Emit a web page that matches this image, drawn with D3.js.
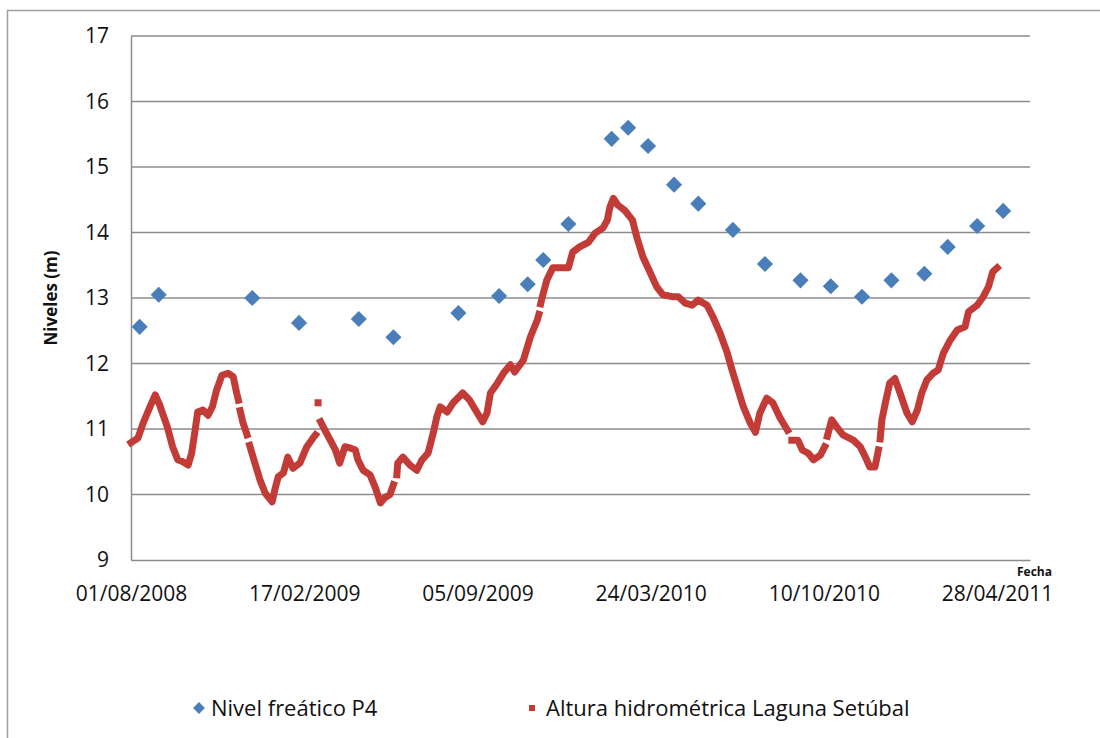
<!DOCTYPE html>
<html>
<head>
<meta charset="utf-8">
<script src="https://cdn.jsdelivr.net/npm/d3@7"></script>
<style>
  body { margin: 0; background: #fff; }
  text { font-family: "Open Sans", "Liberation Sans", sans-serif; fill: #111; }
</style>
</head>
<body>
<script>
// tick labels of the date axis (every 200 days)
const tickLabels = ["01/08/2008", "17/02/2009", "05/09/2009", "24/03/2010", "10/10/2010", "28/04/2011"];
const yTicks = [9, 10, 11, 12, 13, 14, 15, 16, 17];

// Nivel freatico P4 (blue diamonds)
const freaticoDates = ["11/08/2008", "02/09/2008", "19/12/2008", "11/02/2009", "21/04/2009", "31/05/2009",
  "14/08/2009", "30/09/2009", "02/11/2009", "20/11/2009", "19/12/2009", "07/02/2010", "26/02/2010",
  "21/03/2010", "20/04/2010", "18/05/2010", "27/06/2010", "03/08/2010", "13/09/2010", "18/10/2010",
  "23/11/2010", "27/12/2010", "03/02/2011", "02/03/2011", "05/04/2011", "05/05/2011"];
const freaticoValues = [12.56, 13.05, 13.0, 12.62, 12.68, 12.4, 12.77, 13.03, 13.21, 13.58, 14.13, 15.43, 15.6,
  15.32, 14.73, 14.44, 14.04, 13.52, 13.27, 13.18, 13.02, 13.27, 13.37, 13.78, 14.1, 14.33];

// Altura hidrometrica Laguna Setubal: days since 01/08/2008, null = no data
const lagunaDays = [
  0, 8, 14, 22, 28, 33, 42, 48, 54, 60,
  66, 70, 74, 77, 83, 89, 94, 99, 105, 112,
  118, 122, 124, 125, 126, 129, 134, 135, 137, 143,
  149, 155, 163, 166, 170, 176, 181, 187, 195, 203,
  210, 213, 214, 216, 217, 219, 224, 230, 236, 241,
  247, 253, 259, 262, 268, 276, 282, 288, 293, 299,
  303, 305, 307, 308, 314, 322, 330, 336, 343, 349,
  353, 357, 365, 372, 383, 391, 400, 406, 411, 415,
  423, 430, 438, 443, 449, 453, 461, 469, 471, 472,
  473, 475, 480, 487, 495, 505, 510, 518, 528, 536,
  545, 550, 553, 557, 562, 570, 579, 584, 591, 599,
  607, 614, 625, 632, 640, 648, 655, 665, 672, 680,
  688, 694, 700, 707, 715, 721, 726, 734, 741, 749,
  758, 760, 763, 770, 775, 782, 788, 796, 801, 803,
  804, 809, 815, 822, 834, 842, 848, 853, 859, 863,
  864, 865, 867, 871, 876, 882, 888, 896, 902, 908,
  913, 919, 926, 932, 938, 946, 954, 963, 967, 977,
  984, 990, 995, 1000];
const lagunaValues = [
  10.79, 10.86, 11.09, 11.34, 11.52, 11.37, 11.03, 10.73, 10.53, 10.5,
  10.45, 10.63, 10.98, 11.26, 11.29, 11.21, 11.34, 11.6, 11.82, 11.85,
  11.8, 11.55, 11.44, null, 11.28, 11.11, 10.91, null, 10.75, 10.48,
  10.22, 10.02, 9.89, 10.07, 10.27, 10.33, 10.57, 10.4, 10.48, 10.73,
  10.86, 10.91, null, 11.4, null, 11.11, 10.98, 10.83, 10.68, 10.48,
  10.73, 10.71, 10.68, 10.53, 10.37, 10.3, 10.11, 9.87, 9.95, 10.0,
  10.15, null, 10.3, 10.48, 10.57, 10.45, 10.37, 10.53, 10.63, 10.94,
  11.18, 11.34, 11.26, 11.4, 11.55, 11.44, 11.24, 11.11, 11.24, 11.55,
  11.7, 11.85, 11.98, 11.87, 11.98, 12.05, 12.4, 12.66, 12.75, null,
  12.91, 13.02, 13.27, 13.46, 13.46, 13.46, 13.7, 13.78, 13.85, 13.99,
  14.07, 14.19, 14.39, 14.52, 14.42, 14.34, 14.19, 13.93, 13.63, 13.4,
  13.17, 13.05, 13.02, 13.02, 12.92, 12.89, 12.97, 12.89, 12.71, 12.47,
  12.18, 11.9, 11.64, 11.34, 11.09, 10.95, 11.24, 11.47, 11.4, 11.18,
  10.98, null, 10.83, 10.83, 10.68, 10.63, 10.53, 10.6, 10.73, null,
  10.89, 11.14, 11.03, 10.91, 10.83, 10.73, 10.57, 10.42, 10.42, 10.68,
  null, 10.85, 11.14, 11.4, 11.7, 11.77, 11.55, 11.24, 11.11, 11.29,
  11.55, 11.75, 11.85, 11.9, 12.16, 12.36, 12.51, 12.56, 12.79, 12.89,
  13.02, 13.17, 13.4, 13.46];

const W = 1100, H = 738;
const mLeft = 131, mRight = 1030, mTop = 36, mBottom = 560;
const blue = "#4a7ebb", red = "#c23b36", grid = "#8c8c8c";

const parse = d3.timeParse("%d/%m/%Y");
const fmt = d3.timeFormat("%d/%m/%Y");
const startDate = parse(tickLabels[0]);
const endDate = d3.timeDay.offset(startDate, 1038);

const svg = d3.select("body").append("svg")
  .attr("width", W)
  .attr("height", H);

// chart border
svg.append("rect")
  .attr("x", 7.5).attr("y", 10.5)
  .attr("width", 1100).attr("height", 740)
  .attr("fill", "none").attr("stroke", "#a0a0a0").attr("stroke-width", 1.5);

const x = d3.scaleTime().domain([startDate, endDate]).range([mLeft, mRight]);
const y = d3.scaleLinear().domain([9, 17]).range([mBottom, mTop]);

// gridlines
svg.append("g")
  .selectAll("line")
  .data(yTicks.slice(1))
  .enter().append("line")
  .attr("x1", mLeft).attr("x2", mRight)
  .attr("y1", d => y(d)).attr("y2", d => y(d))
  .attr("stroke", grid).attr("stroke-width", 1.5);

// y axis
const yAxis = svg.append("g")
  .attr("transform", "translate(" + mLeft + ",0)")
  .call(d3.axisLeft(y).tickValues(yTicks).tickSize(0).tickPadding(22).tickFormat(d3.format("d")));
yAxis.select(".domain").attr("stroke", grid).attr("stroke-width", 1.5);
yAxis.selectAll("text").style("font-size", "21px").attr("fill", "#111")
  .style("font-family", "'Open Sans', sans-serif");

// x axis
const xAxis = svg.append("g")
  .attr("transform", "translate(0," + mBottom + ")")
  .call(d3.axisBottom(x).tickValues(tickLabels.map(parse)).tickSize(0).tickPadding(26).tickFormat(fmt));
xAxis.select(".domain").attr("stroke", grid).attr("stroke-width", 1.5);
xAxis.selectAll("text").style("font-size", "21px").attr("fill", "#111")
  .style("font-family", "'Open Sans', sans-serif");

// axis titles
svg.append("text")
  .attr("transform", "translate(57," + ((mTop + mBottom) / 2) + ") rotate(-90)")
  .attr("text-anchor", "middle")
  .style("font-size", "17px").style("font-weight", "bold")
  .text("Niveles (m)");

svg.append("text")
  .attr("x", 1052).attr("y", 576)
  .attr("text-anchor", "end")
  .style("font-size", "12px").style("font-weight", "bold")
  .text("Fecha");

// laguna series
const laguna = lagunaDays.map((d, i) => ({ date: d3.timeDay.offset(startDate, d), v: lagunaValues[i] }));
const line = d3.line()
  .defined(d => d.v != null)
  .x(d => x(d.date))
  .y(d => y(d.v));

svg.append("path")
  .datum(laguna)
  .attr("d", line)
  .attr("fill", "none")
  .attr("stroke", red)
  .attr("stroke-width", 7)
  .attr("stroke-linecap", "square")
  .attr("stroke-linejoin", "round");

// freatico series
const diamond = d3.symbol(d3.symbolSquare, 130);
svg.append("g")
  .selectAll("path")
  .data(freaticoDates.map((d, i) => ({ date: parse(d), v: freaticoValues[i] })))
  .enter().append("path")
  .attr("d", diamond)
  .attr("transform", d => "translate(" + x(d.date) + "," + y(d.v) + ") rotate(45)")
  .attr("fill", blue);

// legend
const legend = svg.append("g");
legend.append("path")
  .attr("d", d3.symbol(d3.symbolSquare, 70))
  .attr("transform", "translate(199,708) rotate(45)")
  .attr("fill", blue);
legend.append("text")
  .attr("x", 211).attr("y", 716)
  .style("font-size", "22px")
  .text("Nivel freático P4");
legend.append("rect")
  .attr("x", 529).attr("y", 705).attr("width", 6).attr("height", 6)
  .attr("fill", red);
legend.append("text")
  .attr("x", 546).attr("y", 716)
  .style("font-size", "22px")
  .text("Altura hidrométrica Laguna Setúbal");
</script>
</body>
</html>
